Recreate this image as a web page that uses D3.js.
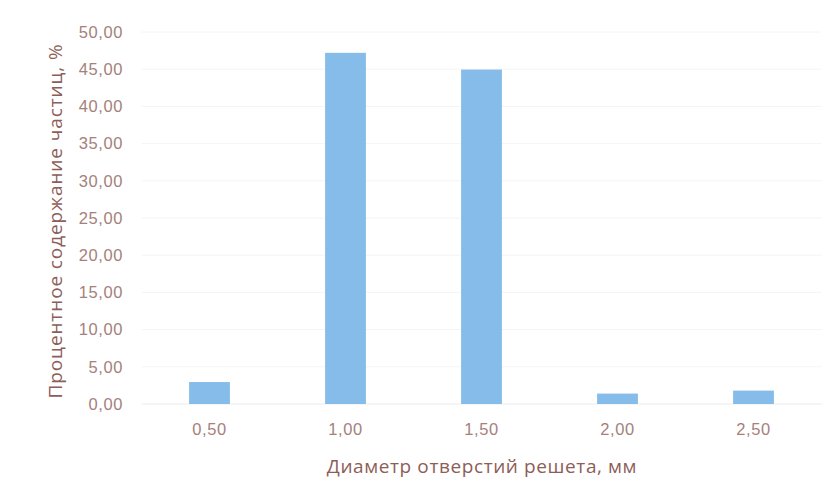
<!DOCTYPE html>
<html>
<head>
<meta charset="utf-8">
<script src="https://cdn.jsdelivr.net/npm/d3@7"></script>
<style>
  html, body { margin: 0; padding: 0; background: #ffffff; }
  svg { display: block; font-family: "Open Sans", "Noto Sans", sans-serif; }
</style>
</head>
<body>
<svg id="chart" width="835" height="503"></svg>
<script>
// Sieve hole diameters and the share of particles retained on each
const categories = ["0,50", "1,00", "1,50", "2,00", "2,50"];
const values = [2.95, 47.2, 44.95, 1.4, 1.8];
const yTicks = [0, 5, 10, 15, 20, 25, 30, 35, 40, 45, 50];
const yTitle = "Процентное содержание частиц, %";
const xTitle = "Диаметр отверстий решета, мм";

const svg = d3.select("#chart");
const plot = { left: 141.5, right: 821.5, top: 32, bottom: 404 };

const x = d3.scaleBand()
  .domain(categories)
  .range([plot.left, plot.right])
  .paddingInner(0.7)
  .paddingOuter(0.35);

const y = d3.scaleLinear()
  .domain([0, 50])
  .range([plot.bottom, plot.top]);

const fmt = v => d3.format(".2f")(v).replace(".", ",");

// faint horizontal gridlines
svg.append("g")
  .selectAll("line")
  .data(yTicks)
  .join("line")
  .attr("x1", plot.left)
  .attr("x2", plot.right)
  .attr("y1", d => y(d))
  .attr("y2", d => y(d))
  .attr("stroke", d => d === 0 ? "#ebebeb" : "#f4f4f4")
  .attr("stroke-width", 1);

// y axis labels
const yAxis = d3.axisLeft(y).tickValues(yTicks).tickFormat(fmt).tickSize(0).tickPadding(0);
const gy = svg.append("g")
  .attr("transform", `translate(123,0)`)
  .call(yAxis);
gy.select(".domain").remove();
gy.selectAll("text")
  .attr("fill", "#a5817c")
  .attr("font-size", 16.5)
  .attr("letter-spacing", "0.6px");

// x axis labels
const xAxis = d3.axisBottom(x).tickSize(0).tickPadding(0);
const gx = svg.append("g")
  .attr("transform", `translate(0,${plot.bottom + 19})`)
  .call(xAxis);
gx.select(".domain").remove();
gx.selectAll("text")
  .attr("fill", "#a5817c")
  .attr("font-size", 16.5)
  .attr("letter-spacing", "0.6px");

// bars
svg.append("g")
  .selectAll("rect")
  .data(values)
  .join("rect")
  .attr("x", (d, i) => x(categories[i]))
  .attr("width", x.bandwidth())
  .attr("y", d => y(d))
  .attr("height", d => y(0) - y(d))
  .attr("fill", "#86bce9");

// axis titles
svg.append("text")
  .attr("transform", `translate(62,221) rotate(-90)`)
  .attr("text-anchor", "middle")
  .attr("fill", "#8d5d57")
  .attr("font-size", 19)
  .attr("letter-spacing", "0.9px")
  .text(yTitle);

svg.append("text")
  .attr("x", 482)
  .attr("y", 473)
  .attr("text-anchor", "middle")
  .attr("fill", "#8d5d57")
  .attr("font-size", 19)
  .attr("letter-spacing", "0.6px")
  .text(xTitle);
</script>
</body>
</html>
